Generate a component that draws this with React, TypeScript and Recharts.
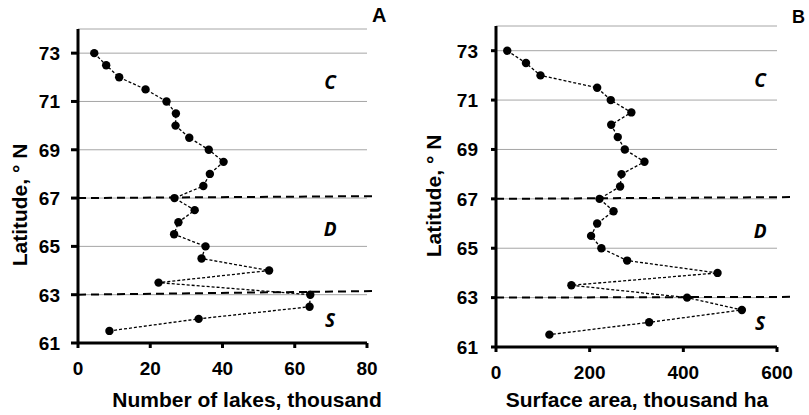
import { CartesianGrid, ReferenceDot, ReferenceLine, Scatter, ScatterChart, XAxis, YAxis } from "recharts";

const latitudes = [73, 72.5, 72, 71.5, 71, 70.5, 70, 69.5, 69, 68.5, 68, 67.5, 67, 66.5, 66, 65.5, 65, 64.5, 64, 63.5, 63, 62.5, 62, 61.5];
const lakesCount = [4.5, 7.8, 11.4, 18.7, 24.5, 27.1, 27.0, 30.8, 36.2, 40.3, 36.5, 34.7, 26.7, 32.3, 27.8, 26.6, 35.3, 34.2, 52.9, 22.3, 64.3, 64.1, 33.4, 8.7];
const surfaceArea = [24, 64, 95, 216, 245, 289, 246, 260, 275, 317, 268, 265, 221, 251, 216, 203, 225, 280, 473, 161, 408, 525, 327, 114];

const latTicks = [61, 63, 65, 67, 69, 71, 73];
const lakesTicks = [0, 20, 40, 60, 80];
const areaTicks = [0, 200, 400, 600];

const boundaryLats = [67, 63];
const zoneNames = ["C", "D", "S"];
const zoneLats = [71.8, 65.7, 61.95];

const lakesData = latitudes.map((lat, i) => ({ lat, v: lakesCount[i] }));
const areaData = latitudes.map((lat, i) => ({ lat, v: surfaceArea[i] }));

const xTick = (t: any) => (
  <text x={t.x} y={t.y} dy="0.71em" textAnchor="middle" fill="black" fontSize={19} fontWeight="bold" fontFamily="Liberation Sans">
    {t.payload.value}
  </text>
);
const yTick = (t: any) => (
  <text x={t.x} y={t.y} dy="0.36em" textAnchor="end" fill="black" fontSize={19} fontWeight="bold" fontFamily="Liberation Sans">
    {t.payload.value}
  </text>
);

const xTitle = (text: string, x: number) => () => (
  <text x={x} y={407} textAnchor="middle" fill="black" fontSize={21} fontWeight="bold" fontFamily="Liberation Sans">
    {text}
  </text>
);
const yTitle = (x: number, y: number) => () => (
  <text x={x} y={y} dy="0.36em" transform={`rotate(-90, ${x}, ${y})`} textAnchor="middle" fill="black" fontSize={21} fontWeight="bold" fontFamily="Liberation Sans">
    Latitude, ° N
  </text>
);

const zoneLabel = (name: string) => ({
  value: name,
  position: "center" as const,
  fill: "black",
  fontSize: 19,
  fontWeight: "bold",
  fontStyle: "italic",
  fontFamily: "Open Sans",
});

const App = () => (
  <div style={{ position: "absolute", left: 0, top: 0, width: 809, height: 415 }}>
    <div style={{ position: "absolute", left: 0, top: 0 }}>
      <ScatterChart width={400} height={415} margin={{ top: 29, right: 33, bottom: 32, left: 0 }}>
        <CartesianGrid vertical={false} stroke="#a6a6a6" />
        <XAxis type="number" dataKey="v" domain={[0, 80]} ticks={lakesTicks} tick={xTick} height={40}
          axisLine={{ stroke: "black", strokeWidth: 3 }} tickLine={{ stroke: "black", strokeWidth: 3 }}
          tickSize={5} tickMargin={14} label={{ content: xTitle("Number of lakes, thousand", 247) }} />
        <YAxis type="number" dataKey="lat" domain={[61, 74]} ticks={latTicks} tick={yTick}
          axisLine={{ stroke: "black", strokeWidth: 3 }} tickLine={{ stroke: "black", strokeWidth: 3 }}
          tickSize={7} tickMargin={11} width={78} label={{ content: yTitle(19, 205) }} />
        {boundaryLats.map((lat, i) => (
          <ReferenceLine key={lat} segment={[{ x: 0, y: lat }, { x: 81.7, y: lat + [0.08, 0.15][i] }]}
            stroke="black" strokeWidth={2} strokeDasharray="8 5" ifOverflow="visible" />
        ))}
        {zoneNames.map((name, i) => (
          <ReferenceDot key={name} x={69.8} y={zoneLats[i]} r={0} stroke="none" label={zoneLabel(name)} />
        ))}
        <Scatter data={lakesData} fill="black" line={{ stroke: "black", strokeWidth: 1.3, strokeDasharray: "3 2" }}
          shape={(s: any) => <circle cx={s.cx} cy={s.cy} r={4.2} fill="black" />} isAnimationActive={false} />
      </ScatterChart>
    </div>
    <div style={{ position: "absolute", left: 420, top: 0 }}>
      <ScatterChart width={389} height={415} margin={{ top: 26, right: 32, bottom: 28, left: 0 }}>
        <CartesianGrid vertical={false} stroke="#a6a6a6" />
        <XAxis type="number" dataKey="v" domain={[0, 600]} ticks={areaTicks} tick={xTick} height={40}
          axisLine={{ stroke: "black", strokeWidth: 3 }} tickLine={{ stroke: "black", strokeWidth: 3 }}
          tickSize={5} tickMargin={14} label={{ content: xTitle("Surface area, thousand ha", 217) }} />
        <YAxis type="number" dataKey="lat" domain={[61, 74]} ticks={latTicks} tick={yTick}
          axisLine={{ stroke: "black", strokeWidth: 3 }} tickLine={{ stroke: "black", strokeWidth: 3 }}
          tickSize={5} tickMargin={13} width={76} label={{ content: yTitle(13, 196) }} />
        {boundaryLats.map((lat, i) => (
          <ReferenceLine key={lat} segment={[{ x: 0, y: lat }, { x: 628, y: lat + [0.07, 0.03][i] }]}
            stroke="black" strokeWidth={2} strokeDasharray="8 5" ifOverflow="visible" />
        ))}
        {zoneNames.map((name, i) => (
          <ReferenceDot key={name} x={564} y={zoneLats[i]} r={0} stroke="none" label={zoneLabel(name)} />
        ))}
        <Scatter data={areaData} fill="black" line={{ stroke: "black", strokeWidth: 1.3, strokeDasharray: "3 2" }}
          shape={(s: any) => <circle cx={s.cx} cy={s.cy} r={4.2} fill="black" />} isAnimationActive={false} />
      </ScatterChart>
    </div>
    <div style={{ position: "absolute", left: 372, top: 5, fontFamily: "Liberation Sans", fontWeight: 700, fontSize: 20, color: "black", lineHeight: 1 }}>A</div>
    <div style={{ position: "absolute", left: 792, top: 8, fontFamily: "Liberation Sans", fontWeight: 700, fontSize: 18, color: "black", lineHeight: 1 }}>B</div>
  </div>
);

export default App;
